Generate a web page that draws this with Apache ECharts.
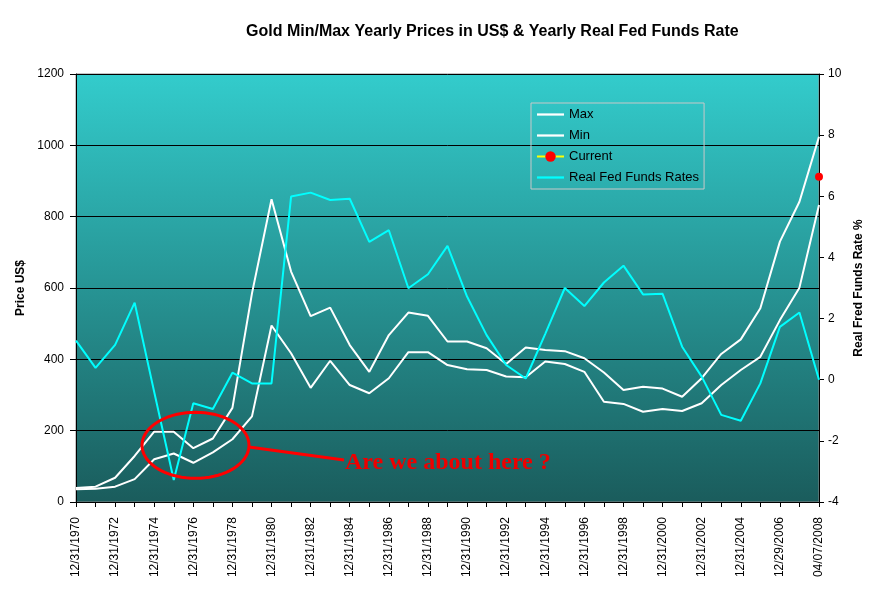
<!DOCTYPE html>
<html>
<head>
<meta charset="utf-8">
<script src="https://cdn.jsdelivr.net/npm/echarts@6/dist/echarts.min.js"></script>
<style>html,body{margin:0;padding:0;background:#fff;}#c{width:875px;height:590px;}</style>
</head>
<body>
<div id="c"></div>
<script>
const categories = ["12/31/1970","12/31/1971","12/31/1972","12/31/1973","12/31/1974","12/31/1975","12/31/1976","12/31/1977","12/31/1978","12/31/1979",
"12/31/1980","12/31/1981","12/31/1982","12/31/1983","12/31/1984","12/31/1985","12/31/1986","12/31/1987","12/31/1988","12/31/1989",
"12/31/1990","12/31/1991","12/31/1992","12/31/1993","12/31/1994","12/31/1995","12/31/1996","12/31/1997","12/31/1998","12/31/1999",
"12/31/2000","12/31/2001","12/31/2002","12/31/2003","12/31/2004","12/31/2005","12/29/2006","12/31/2007","04/07/2008"];
const maxPrice = [39,43,68,129,197,197,151,178,264,585,849,646,521,545,440,365,468,531,522,450,450,431,387,433,426,423,403,363,314,323,318,295,347,415,456,543,730,842,1024];
const minPrice = [36,37,43,64,120,136,110,139,176,240,495,417,320,396,328,305,347,420,420,384,372,370,352,350,394,387,365,281,275,253,261,255,277,328,370,407,510,601,833];
const fedRate = [1.28,0.39,1.14,2.52,-0.4,-3.28,-0.77,-0.96,0.23,-0.12,-0.12,5.99,6.12,5.88,5.92,4.51,4.89,2.99,3.45,4.38,2.72,1.46,0.48,0.04,1.5,3.0,2.41,3.18,3.73,2.79,2.81,1.08,0.10,-1.15,-1.34,-0.12,1.73,2.2,0];
const currentData = [["04/07/2008", 912]];
const priceTicks = {min:0, max:1200, interval:200};
const rateTicks = {min:-4, max:10, interval:2};

const FONT = "'Liberation Sans', Arial, sans-serif";
const LINE_ICON = 'path://M0,0 L30,0 L30,2.5 L0,2.5 Z';
const chart = echarts.init(document.getElementById('c'), null, {renderer:'canvas'});

// annotation ellipse outline (decoration)
const ell = [];
for (let k = 0; k < 72; k++) {
  const a = k / 72 * Math.PI * 2;
  ell.push([195.5 + 53.5 * Math.cos(a), 445.3 + 33 * Math.sin(a)]);
}

chart.setOption({
  animation: false,
  backgroundColor: '#ffffff',
  title: {
    text: 'Gold Min/Max Yearly Prices in US$ & Yearly Real Fed Funds Rate',
    left: 241, top: 19,
    textStyle: {fontFamily: FONT, fontSize: 16, fontWeight: 'bold', color: '#000'}
  },
  grid: {
    left: 76, right: 56, top: 74, bottom: 88,
    show: true,
    borderColor: '#8a8a8a', borderWidth: 1,
    backgroundColor: new echarts.graphic.LinearGradient(0, 0, 0, 1, [
      {offset: 0, color: '#33cccc'},
      {offset: 1, color: '#1a5c5c'}
    ])
  },
  legend: {
    orient: 'vertical',
    left: 531, top: 103,
    padding: [5, 5, 5, 5],
    itemGap: 8,
    itemWidth: 27, itemHeight: 13,
    borderColor: '#c8c8c8', borderWidth: 1,
    textStyle: {fontFamily: FONT, fontSize: 13, color: '#000'},
    data: [
      {name: 'Max', icon: LINE_ICON},
      {name: 'Min', icon: LINE_ICON},
      {name: 'Current'},
      {name: 'Real Fed Funds Rates', icon: LINE_ICON}
    ]
  },
  xAxis: {
    type: 'category',
    data: categories,
    boundaryGap: false,
    axisLine: {lineStyle: {color: '#000', width: 1}},
    axisTick: {show: true, interval: 0, length: 5, lineStyle: {color: '#000'}},
    axisLabel: {rotate: 90, interval: 1, margin: 15, fontFamily: FONT, fontSize: 12, color: '#000'},
    splitLine: {show: false}
  },
  yAxis: [
    {
      type: 'value',
      min: priceTicks.min, max: priceTicks.max, interval: priceTicks.interval,
      name: 'Price US$', nameLocation: 'middle', nameGap: 40, nameRotate: 90,
      nameTextStyle: {fontFamily: FONT, fontSize: 12, fontWeight: 'bold', color: '#000'},
      axisLine: {show: true, lineStyle: {color: '#000'}},
      axisTick: {show: true, length: 6, lineStyle: {color: '#000'}},
      axisLabel: {fontFamily: FONT, fontSize: 12, color: '#000', margin: 12, formatter: v => String(v)},
      splitLine: {show: true, lineStyle: {color: '#000', width: 1}}
    },
    {
      type: 'value',
      min: rateTicks.min, max: rateTicks.max, interval: rateTicks.interval,
      name: 'Real Fred Funds Rate %', nameLocation: 'middle', nameGap: 30, nameRotate: 90,
      nameTextStyle: {fontFamily: FONT, fontSize: 12, fontWeight: 'bold', color: '#000'},
      axisLine: {show: true, lineStyle: {color: '#000'}},
      axisTick: {show: true, length: 5, lineStyle: {color: '#000'}},
      axisLabel: {fontFamily: FONT, fontSize: 12, color: '#000', margin: 9},
      splitLine: {show: false}
    }
  ],
  series: [
    {name: 'Max', type: 'line', data: maxPrice, symbol: 'none', lineStyle: {color: '#ffffff', width: 2}, itemStyle: {color: '#ffffff'}, z: 3},
    {name: 'Min', type: 'line', data: minPrice, symbol: 'none', lineStyle: {color: '#ffffff', width: 2}, itemStyle: {color: '#ffffff'}, z: 3},
    {name: 'Current', type: 'line', data: currentData, symbol: 'circle', symbolSize: 8, lineStyle: {color: '#ffff00', width: 1.5}, itemStyle: {color: '#ff0000'}, z: 5},
    {name: 'Real Fed Funds Rates', type: 'line', yAxisIndex: 1, data: fedRate, symbol: 'none', lineStyle: {color: '#00ffff', width: 2}, itemStyle: {color: '#00ffff'}, z: 4}
  ],
  graphic: [
    {type: 'polygon', shape: {points: ell}, style: {fill: 'none', stroke: '#ff0000', lineWidth: 3}, z: 10},
    {type: 'line', shape: {x1: 249, y1: 447, x2: 344, y2: 460}, style: {stroke: '#ff0000', lineWidth: 3}, z: 10},
    {type: 'text', left: 345, top: 451, style: {text: 'Are we about here ?', fill: '#ee0000', fontFamily: "'Liberation Serif', 'Times New Roman', serif", fontSize: 24, fontWeight: 'bold'}, z: 10}
  ]
});
</script>
</body>
</html>
